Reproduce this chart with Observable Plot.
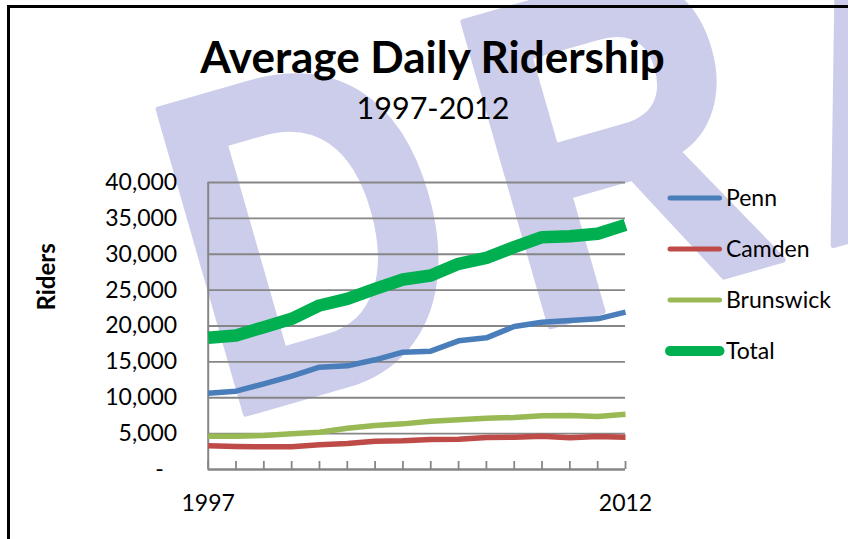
<!DOCTYPE html>
<html><head><meta charset="utf-8">
<script src="https://cdn.jsdelivr.net/npm/d3@7"></script>
<script src="https://cdn.jsdelivr.net/npm/@observablehq/plot@0.6"></script>
<style>
body{margin:0;background:#fff;}
#wrap{position:relative;width:848px;height:539px;overflow:hidden;font-family:Lato,sans-serif;}
#wm{position:absolute;left:0;top:0;z-index:0;}
#border{position:absolute;left:7px;top:5px;width:900px;height:600px;border-left:3px solid #000;border-top:3px solid #000;z-index:3;}
#header,#chart{position:relative;z-index:1;display:block;}
#legend{position:absolute;left:0;top:0;z-index:2;}
</style></head><body><div id="wrap"></div>
<script>
const years = [1997,1998,1999,2000,2001,2002,2003,2004,2005,2006,2007,2008,2009,2010,2011,2012];
const penn = [10640,10920,11940,13010,14260,14450,15290,16350,16490,17930,18350,19930,20530,20770,21000,21930];
const camden = [3300,3210,3160,3160,3440,3620,3950,4000,4180,4230,4460,4510,4650,4410,4600,4510];
const brunswick = [4650,4650,4740,4970,5200,5760,6130,6360,6740,6920,7150,7250,7480,7530,7390,7710];
const total = [18350,18680,19840,21000,22860,23790,25180,26480,27040,28670,29500,30990,32380,32520,32850,34100];
const seriesNames = ["Penn","Camden","Brunswick","Total"];
const seriesColors = ["#4A7EBB","#BE4B48","#98B954","#00B050"];
const yTicks = [0,5000,10000,15000,20000,25000,30000,35000,40000];
const xLabels = [1997, 2012];
const titleText = "Average Daily Ridership";
const subtitleText = "1997-2012";
const yLabel = "Riders";
const watermarkLetters = ["D","R","A","F","T"];

const seriesValues = [penn, camden, brunswick, total];
const rows = [];
seriesNames.forEach((s, i) => years.forEach((yr, j) => rows.push({year: yr, value: seriesValues[i][j], series: s})));

const wrap = d3.select("#wrap");

// watermark (letters spaced like the narrower original face)
const wm = wrap.append("svg").attr("id","wm").attr("width",848).attr("height",539);
const wmText = wm.append("text")
  .attr("transform","translate(248,413) rotate(-16) scale(0.83,1)")
  .attr("font-family","'Liberation Sans',Arial,sans-serif").attr("font-weight","bold")
  .attr("font-size",460).attr("fill","#CCCDEB")
  .attr("stroke","#CCCDEB").attr("stroke-width",6).attr("stroke-linejoin","round");
const letterX = [-34, 348, 722, 1057, 1340];
watermarkLetters.forEach((l, i) => wmText.append("tspan").attr("x", letterX[i]).attr("y", 0).text(l));

wrap.append("div").attr("id","border");

// header
const hdr = wrap.append("svg").attr("id","header").attr("width",848).attr("height",160);
hdr.append("text").text(titleText).attr("x",432.5).attr("y",73.3).attr("text-anchor","middle")
  .attr("font-family","Lato,sans-serif").attr("font-weight","bold").attr("font-size",44).attr("fill","#000");
hdr.append("text").text(subtitleText).attr("x",433).attr("y",119).attr("text-anchor","middle")
  .attr("font-family","Lato,sans-serif").attr("font-size",30.5).attr("fill","#000");

const plot = Plot.plot({
  width: 848, height: 379,
  marginLeft: 207.7, marginRight: 223, marginTop: 22, marginBottom: 70,
  style: {background: "transparent", fontFamily: "Lato, sans-serif", fontSize: "23px", color: "#000", overflow: "visible"},
  x: {domain: [1997, 2012]},
  y: {domain: [0, 40000]},
  color: {domain: seriesNames, range: seriesColors},
  marks: [
    Plot.gridY(yTicks, {stroke: "#868686", strokeOpacity: 1, strokeWidth: 1.8}),
    Plot.ruleX([1997], {stroke: "#868686", strokeWidth: 2}),
    Plot.ruleY([0], {stroke: "#868686", strokeWidth: 2.2}),
    Plot.tickX(years, {x: d => d, stroke: "#868686", strokeWidth: 1.8, insetTop: 279}),
    Plot.axisY(yTicks, {tickSize: 0, tickPadding: 31, tickFormat: d => d === 0 ? "-\u2007" : d3.format(",")(d), label: null, fill: "#000"}),
    Plot.axisX(xLabels, {tickSize: 0, tickPadding: 25, tickFormat: d => String(d), label: null, fill: "#000"}),
    Plot.line(rows.filter(r => r.series !== "Total"), {x: "year", y: "value", stroke: "series", z: "series", strokeWidth: 5.5, strokeLinejoin: "round", strokeLinecap: "butt"}),
    Plot.line(rows.filter(r => r.series === "Total"), {x: "year", y: "value", stroke: "series", z: "series", strokeWidth: 12.5, strokeLinejoin: "round", strokeLinecap: "butt"}),
    Plot.text([yLabel], {text: d => d, frameAnchor: "left", dx: -160.7, dy: -15.5, rotate: -90, fontWeight: "bold", fontSize: 24, fill: "#000"})
  ]
});
plot.setAttribute("id","chart");
wrap.node().appendChild(plot);

// legend
const lg = wrap.append("svg").attr("id","legend").attr("width",848).attr("height",539);
seriesNames.forEach((s, i) => {
  const ly = 198 + i * 51;
  const w = s === "Total" ? 10 : 5;
  lg.append("line").attr("x1",670).attr("x2",719.5).attr("y1",ly).attr("y2",ly)
    .attr("stroke",seriesColors[i]).attr("stroke-width",w).attr("stroke-linecap","round");
  lg.append("text").text(s).attr("x",726).attr("y",ly+8)
    .attr("font-family","Lato,sans-serif").attr("font-size",23).attr("fill","#000");
});
</script></body></html>
